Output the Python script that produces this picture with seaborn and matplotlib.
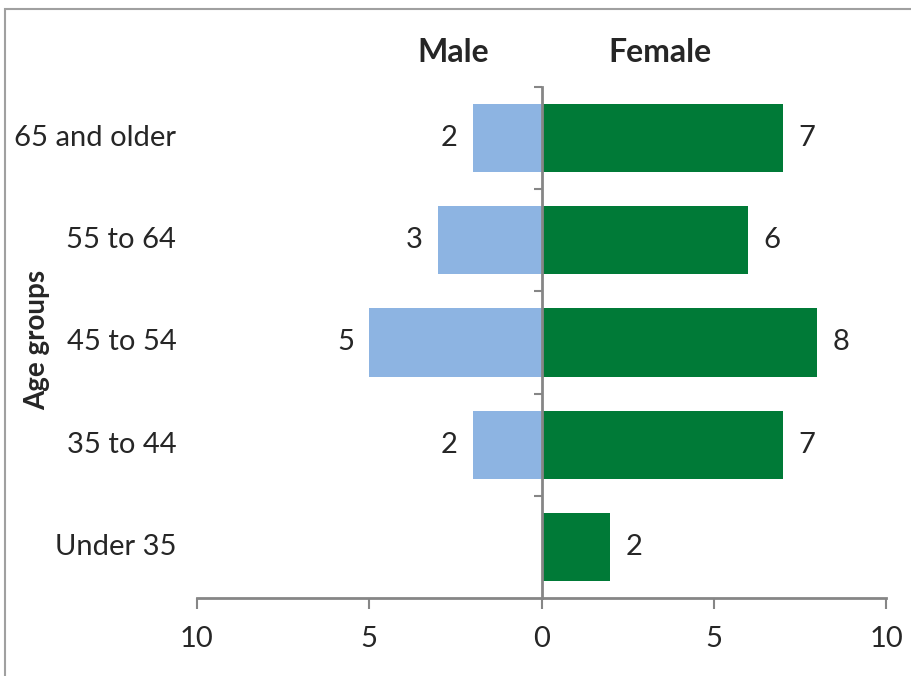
import matplotlib
matplotlib.use("Agg")
import matplotlib.pyplot as plt
from matplotlib.patches import Rectangle
from matplotlib.ticker import FuncFormatter, FixedLocator
import seaborn as sns
import pandas as pd

# data
age_groups = ["65 and older", "55 to 64", "45 to 54", "35 to 44", "Under 35"]
male = [2, 3, 5, 2, 0]
female = [7, 6, 8, 7, 2]
x_ticks = [-10, -5, 0, 5, 10]

male_color = "#8DB4E2"
female_color = "#007A37"
axis_gray = "#868686"

sns.set_style("white")
plt.rcParams["font.family"] = ["Lato", "DejaVu Sans"]

df = pd.DataFrame({"group": age_groups, "male": [-m for m in male], "female": female})

fig = plt.figure(figsize=(9.12, 6.76), dpi=100)
ax = fig.add_axes([197 / 912, 1 - 598 / 676, (886 - 197) / 912, (598 - 87) / 676])

sns.barplot(data=df, x="male", y="group", order=age_groups, color=male_color,
            width=0.667, linewidth=0, saturation=1, ax=ax)
sns.barplot(data=df, x="female", y="group", order=age_groups, color=female_color,
            width=0.667, linewidth=0, saturation=1, ax=ax)

ax.set_xlim(-10, 10)
ax.set_ylim(len(age_groups) - 0.5, -0.5)

# value labels
for i, (m, f) in enumerate(zip(male, female)):
    if m > 0:
        ax.annotate(str(m), (-m, i), xytext=(-11, 0), textcoords="offset points",
                    ha="right", va="center", fontsize=21)
    if f > 0:
        ax.annotate(str(f), (f, i), xytext=(11, 0), textcoords="offset points",
                    ha="left", va="center", fontsize=21)

# spines
for s in ["top", "right"]:
    ax.spines[s].set_visible(False)
ax.spines["left"].set_position(("data", 0))
for s in ["left", "bottom"]:
    ax.spines[s].set_color(axis_gray)
    ax.spines[s].set_linewidth(2)

ax.set_xticks(x_ticks)
ax.xaxis.set_major_formatter(FuncFormatter(lambda v, p: f"{abs(int(v))}"))
ax.tick_params(axis="x", direction="out", length=8, width=1.5, color=axis_gray,
               labelsize=21, pad=12, bottom=True)

# y: boundary ticks on the center line, labels placed at left edge
ax.set_yticks(range(len(age_groups)))
ax.set_yticklabels([])
ax.tick_params(axis="y", which="major", length=0, left=False)
ax.yaxis.set_minor_locator(FixedLocator([i - 0.5 for i in range(len(age_groups))]))
ax.tick_params(axis="y", which="minor", direction="out", length=6, width=1.5,
               color=axis_gray, left=True)
ax.set_xlabel("")
ax.set_ylabel("")

trans = ax.get_yaxis_transform()
for i, g in enumerate(age_groups):
    ax.text(-0.03, i, g, transform=trans, ha="right", va="center", fontsize=21)

fig.text(37 / 912, 1 - 340 / 676, "Age groups", rotation=90, ha="center", va="center",
         fontsize=20, fontweight="bold")
fig.text(453 / 912, 1 - 53 / 676, "Male", ha="center", va="center",
         fontsize=23, fontweight="bold")
fig.text(660 / 912, 1 - 53 / 676, "Female", ha="center", va="center",
         fontsize=23, fontweight="bold")

# chart-area frame (right and bottom edges fall outside the image)
fig.add_artist(Rectangle((5 / 912, -0.1), 1.2, 1.1 - 9 / 676, transform=fig.transFigure,
                         fill=False, edgecolor="#A0A0A0", linewidth=1.5))

fig.savefig("out.png", dpi=100)
